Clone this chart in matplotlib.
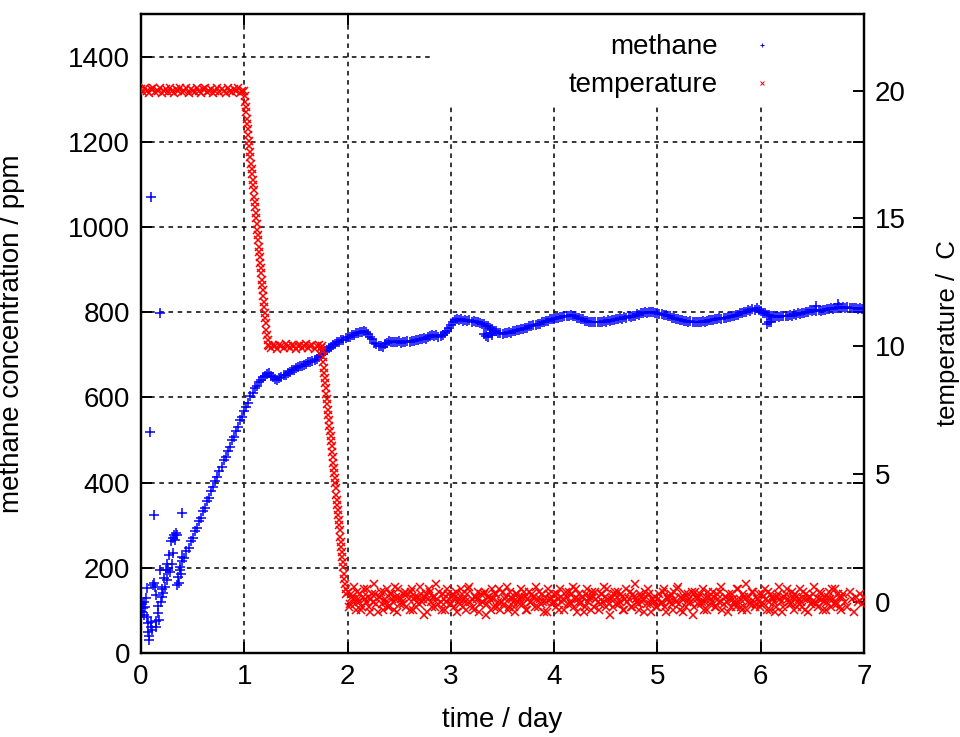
import numpy as np
import matplotlib.pyplot as plt
from matplotlib.lines import Line2D
from matplotlib.patches import Rectangle

plt.rcParams['font.family'] = ['Liberation Sans', 'DejaVu Sans']

# ---- methane (ppm) ----
# scattered readings during the first hours
ch4_early_t = [0.005, 0.010, 0.018, 0.025, 0.032, 0.040, 0.048, 0.055, 0.060, 0.066,
               0.071, 0.077, 0.082, 0.087, 0.092, 0.097, 0.100, 0.110, 0.118, 0.125,
               0.130, 0.136, 0.142, 0.148, 0.150, 0.160, 0.168, 0.174, 0.180, 0.184,
               0.192, 0.200, 0.208, 0.216, 0.225, 0.232, 0.240, 0.248, 0.256, 0.265,
               0.272, 0.280, 0.290, 0.297, 0.305, 0.313, 0.320, 0.330, 0.338, 0.345,
               0.352, 0.360, 0.368, 0.377, 0.385, 0.394, 0.400]
ch4_early = [115, 97, 105, 89, 120, 109, 128, 152, 85, 50,
             70, 30, 40, 519, 73, 1070, 60, 55, 159, 324,
             165, 156, 62, 75, 136, 110, 93, 77, 797, 195,
             120, 132, 150, 140, 175, 156, 195, 171, 210, 195,
             230, 191, 262, 210, 270, 234, 278, 265, 282, 277,
             160, 179, 165, 195, 185, 226, 328]

# main trace, one reading every 0.02 day
ch4_rise = [202, 216, 223, 239, 247, 263, 271, 286, 294, 310,
            318, 334, 341, 357, 365, 381, 389, 404, 412, 428,
            436, 452, 459, 475, 483, 499, 507, 522, 530, 546,
            554]                                   # from day 0.38
ch4_day1 = [568, 578, 588, 603, 611, 621, 627, 636, 640, 647,
            651, 656, 657, 651, 649, 644, 642, 646, 647, 652,
            653, 658, 659, 664, 665, 668, 671, 673, 674, 677,
            679, 682, 683, 686, 688, 691, 694, 699, 703, 708,
            712, 717, 719, 724, 725, 729, 730, 734, 735, 739]
ch4_day2 = [741, 742, 746, 746, 750, 750, 754, 754, 757, 753,
            749, 741, 736, 728, 726, 721, 721, 718, 725, 728,
            732, 729, 730, 731, 729, 732, 728, 731, 730, 732,
            730, 733, 732, 735, 734, 737, 736, 739, 737, 741,
            743, 746, 745, 746, 742, 744, 747, 751, 756, 763]
ch4_day3 = [770, 777, 781, 785, 782, 783, 780, 781, 779, 781,
            778, 780, 777, 776, 775, 773, 773, 768, 767, 762,
            761, 756, 756, 752, 752, 749, 751, 750, 753, 752,
            755, 755, 758, 758, 761, 760, 764, 764, 767, 768,
            770, 770, 773, 773, 777, 776, 780, 780, 783, 783]
ch4_day4 = [785, 787, 786, 789, 788, 791, 790, 792, 793, 790,
            790, 786, 787, 783, 783, 780, 780, 777, 778, 776,
            778, 776, 778, 777, 779, 778, 781, 780, 782, 782,
            785, 784, 786, 785, 788, 787, 790, 789, 792, 792,
            795, 794, 798, 797, 800, 799, 801, 800, 800, 797]
ch4_day5 = [798, 795, 796, 793, 793, 790, 791, 787, 787, 784,
            784, 781, 782, 779, 780, 778, 779, 777, 778, 776,
            778, 776, 779, 777, 780, 781, 782, 781, 784, 783,
            786, 784, 787, 786, 789, 788, 791, 790, 794, 794,
            798, 797, 801, 800, 804, 803, 807, 806, 809, 805]
ch4_day6 = [802, 798, 798, 794, 794, 791, 792, 789, 791, 789,
            791, 790, 792, 790, 794, 792, 795, 794, 797, 796,
            799, 798, 801, 801, 804, 802, 805, 803, 805, 803,
            806, 805, 808, 807, 809, 808, 811, 810, 813, 811,
            813, 811, 812, 810, 811, 809, 810, 807, 809, 807, 808]
# stray readings
ch4_stray_t = [3.32, 3.34, 3.36, 3.38, 3.40, 6.06, 6.08, 6.10, 6.54, 6.75]
ch4_stray = [748, 745, 742, 750, 747, 773, 778, 776, 814, 820]

# ---- temperature (C) ----
temp_high = [20.05, 19.95, 20.1, 20.0, 19.9, 20.05, 20.1, 19.95, 20.0, 20.1,
             19.9, 20.0, 20.05, 19.95, 20.1, 20.0, 19.9, 20.05, 20.0, 20.1,
             19.95, 20.0, 20.1, 19.9, 20.05, 20.0, 19.95, 20.1, 20.0, 19.9,
             20.05, 20.1, 19.95, 20.0, 20.05, 19.9, 20.0, 20.1, 19.95, 20.05,
             20.0, 19.9, 20.1, 20.0, 19.95, 20.05, 20.0, 20.1, 19.9, 20.0]  # day 0, every 0.02
temp_drop1 = [20.0, 19.8, 19.55, 19.35, 19.15, 18.9, 18.7, 18.5, 18.25, 18.05,
              17.85, 17.6, 17.4, 17.15, 16.95, 16.75, 16.5, 16.3, 16.1, 15.85,
              15.65, 15.45, 15.2, 15.0, 14.8, 14.55, 14.35, 14.15, 13.9, 13.7,
              13.5, 13.25, 13.05, 12.85, 12.6, 12.4, 12.2, 11.95, 11.75, 11.55,
              11.3, 11.1, 10.9, 10.65, 10.45, 10.25, 10.05]  # day 1.0, every 0.005
temp_mid = [10.0, 9.95, 10.05, 10.0, 9.9, 10.05, 10.0, 9.95, 10.1, 10.0,
            9.95, 10.05, 10.0, 9.9, 10.0, 10.05, 9.95, 10.0, 10.1, 9.95,
            10.0, 10.05, 9.9, 10.0, 10.05, 9.95]  # day 1.24, every 0.02
temp_drop2 = [10.0, 9.8, 9.6, 9.4, 9.15, 8.95, 8.75, 8.55, 8.35, 8.15,
              7.95, 7.75, 7.5, 7.3, 7.1, 6.9, 6.7, 6.5, 6.3, 6.1,
              5.85, 5.65, 5.45, 5.25, 5.05, 4.85, 4.65, 4.45, 4.2, 4.0,
              3.8, 3.6, 3.4, 3.2, 3.0, 2.8, 2.55, 2.35, 2.15, 1.95,
              1.75, 1.55, 1.35, 1.1, 0.9, 0.7, 0.5, 0.3]  # day 1.75, every 0.005
temp_day2 = [0.4, -0.1, 0.2, 0.6, -0.3, 0.1, 0.3, -0.2, 0.5, 0.0,
             0.2, -0.4, 0.3, 0.7, -0.1, 0.2, 0.4, -0.3, 0.1, 0.5,
             -0.2, 0.3, 0.0, 0.6, -0.4, 0.2, 0.1, -0.1, 0.4, 0.3,
             -0.3, 0.5, 0.1, -0.2, 0.2, 0.6, 0.0, -0.5, 0.3, 0.1,
             0.4, -0.2, 0.2, 0.7, -0.1, 0.0, 0.3, -0.3, 0.5, 0.1]
temp_day3 = [-0.1, 0.3, 0.2, -0.4, 0.1, 0.5, -0.2, 0.0, 0.3, 0.6,
             0.1, -0.3, 0.2, 0.4, -0.1, 0.0, 0.3, -0.5, 0.2, 0.1,
             0.5, -0.2, 0.3, 0.0, -0.3, 0.4, 0.1, 0.6, -0.2, 0.2,
             0.0, -0.4, 0.3, 0.1, 0.5, -0.1, 0.2, -0.3, 0.4, 0.0,
             0.2, 0.6, -0.2, 0.1, 0.3, -0.4, 0.0, 0.5, 0.1, -0.1]
temp_day4 = [0.3, -0.2, 0.1, 0.5, 0.0, -0.3, 0.2, 0.4, -0.1, 0.6,
             0.1, -0.4, 0.3, 0.0, 0.2, -0.2, 0.5, 0.1, -0.3, 0.2,
             0.4, 0.0, -0.1, 0.3, 0.6, -0.2, 0.1, -0.5, 0.2, 0.3,
             -0.1, 0.4, 0.0, 0.2, -0.3, 0.5, 0.1, -0.2, 0.3, 0.7,
             0.0, -0.3, 0.2, 0.1, 0.4, -0.1, 0.3, -0.4, 0.1, 0.2]
temp_day5 = [-0.2, 0.3, 0.0, 0.5, -0.4, 0.1, 0.2, -0.1, 0.4, 0.0,
             0.6, -0.3, 0.1, 0.2, -0.2, 0.3, 0.0, -0.5, 0.4, 0.1,
             0.2, -0.1, 0.5, 0.0, -0.3, 0.2, 0.1, 0.4, -0.2, 0.3,
             0.0, 0.6, -0.1, 0.2, -0.4, 0.1, 0.3, 0.0, -0.2, 0.5,
             0.1, -0.3, 0.2, 0.7, 0.0, -0.1, 0.4, -0.2, 0.1, 0.3]
temp_day6 = [-0.1, 0.2, 0.5, -0.3, 0.0, 0.3, 0.1, -0.4, 0.2, 0.6,
             0.0, -0.2, 0.3, 0.1, -0.1, 0.4, -0.3, 0.2, 0.0, 0.5,
             -0.2, 0.1, 0.3, -0.4, 0.2, 0.0, 0.6, -0.1, 0.1, 0.3,
             -0.3, 0.2, 0.0, 0.4, -0.2, 0.1, 0.5, -0.1, 0.2, -0.3,
             0.3, 0.0, -0.2, 0.4, 0.1, -0.4, 0.2, 0.0, 0.3, -0.1, 0.2]
# in-between readings (offset by 0.01 day) for days 2-7
temp_mid2 = [-0.2, 0.3, 0.1, -0.1, 0.4, 0.0, -0.3, 0.2, 0.1, 0.5,
             -0.2, 0.1, 0.0, 0.3, -0.4, 0.2, -0.1, 0.4, 0.0, -0.2,
             0.3, 0.1, -0.3, 0.2, 0.5, -0.1, 0.0, 0.3, -0.2, 0.1,
             0.4, -0.3, 0.2, 0.0, -0.1, 0.3, 0.1, 0.2, -0.4, 0.5,
             0.0, 0.2, -0.2, 0.1, 0.4, -0.3, 0.1, 0.0, 0.3, -0.1]
temp_mid3 = [0.2, -0.2, 0.4, 0.0, -0.1, 0.3, 0.1, -0.3, 0.5, 0.0,
             -0.2, 0.2, 0.1, -0.4, 0.3, 0.0, 0.4, -0.1, 0.2, -0.3,
             0.1, 0.3, -0.2, 0.5, 0.0, -0.1, 0.2, -0.3, 0.4, 0.1,
             -0.2, 0.3, 0.0, -0.1, 0.2, 0.4, -0.3, 0.1, 0.0, 0.3,
             -0.2, 0.1, 0.4, -0.1, 0.0, 0.2, -0.4, 0.3, 0.1, 0.0]
temp_mid4 = [0.0, 0.3, -0.3, 0.2, 0.1, 0.4, -0.1, 0.0, 0.3, -0.2,
             0.5, 0.1, -0.1, 0.2, -0.4, 0.3, 0.0, 0.2, 0.4, -0.2,
             0.1, -0.3, 0.3, 0.0, 0.2, 0.5, -0.1, 0.1, -0.2, 0.4,
             0.2, -0.1, 0.3, -0.3, 0.1, 0.0, 0.4, -0.2, 0.2, 0.1,
             -0.1, 0.3, 0.0, -0.4, 0.2, 0.5, -0.1, 0.1, 0.0, -0.2]
temp_mid5 = [0.1, -0.1, 0.4, -0.2, 0.2, 0.0, 0.3, -0.3, 0.1, 0.5,
             -0.1, 0.2, -0.4, 0.3, 0.0, 0.1, 0.4, -0.2, 0.2, -0.1,
             0.3, 0.0, -0.3, 0.2, 0.4, -0.1, 0.0, 0.2, -0.2, 0.1,
             0.4, -0.3, 0.2, 0.0, 0.3, -0.2, 0.1, -0.1, 0.5, 0.0,
             -0.2, 0.3, 0.1, -0.3, 0.2, 0.0, 0.4, -0.1, 0.1, -0.2]
temp_mid6 = [0.3, -0.1, 0.1, 0.4, -0.3, 0.2, 0.0, -0.2, 0.3, 0.1,
             -0.4, 0.2, 0.5, 0.0, -0.1, 0.2, 0.3, -0.2, 0.1, 0.0,
             0.4, -0.3, 0.1, 0.2, -0.1, 0.3, 0.0, -0.2, 0.4, 0.1,
             0.0, -0.3, 0.2, 0.1, 0.5, -0.1, 0.0, 0.3, -0.2, 0.2]  # up to day 6.8


def stamps(start, step, values):
    # logger sample times for a block of readings
    return start + step * np.arange(len(values))


ch4_t = np.concatenate([ch4_early_t,
                        stamps(0.38, 0.02, ch4_rise),
                        stamps(1.0, 0.02, ch4_day1),
                        stamps(2.0, 0.02, ch4_day2),
                        stamps(3.0, 0.02, ch4_day3),
                        stamps(4.0, 0.02, ch4_day4),
                        stamps(5.0, 0.02, ch4_day5),
                        stamps(6.0, 0.02, ch4_day6),
                        ch4_stray_t])
ch4 = np.concatenate([ch4_early, ch4_rise, ch4_day1, ch4_day2, ch4_day3,
                      ch4_day4, ch4_day5, ch4_day6, ch4_stray])

temp_t = np.concatenate([stamps(0.0, 0.02, temp_high),
                         stamps(1.0, 0.005, temp_drop1),
                         stamps(1.24, 0.02, temp_mid),
                         stamps(1.75, 0.005, temp_drop2),
                         stamps(2.0, 0.02, temp_day2),
                         stamps(3.0, 0.02, temp_day3),
                         stamps(4.0, 0.02, temp_day4),
                         stamps(5.0, 0.02, temp_day5),
                         stamps(6.0, 0.02, temp_day6),
                         stamps(2.01, 0.02, temp_mid2),
                         stamps(3.01, 0.02, temp_mid3),
                         stamps(4.01, 0.02, temp_mid4),
                         stamps(5.01, 0.02, temp_mid5),
                         stamps(6.01, 0.02, temp_mid6)])
temp = np.concatenate([temp_high, temp_drop1, temp_mid, temp_drop2,
                       temp_day2, temp_day3, temp_day4, temp_day5, temp_day6,
                       temp_mid2, temp_mid3, temp_mid4, temp_mid5, temp_mid6])

fig = plt.figure(figsize=(9.6, 7.37), dpi=100)
ax = fig.add_axes([141/960, 84/737, 723/960, 639/737])
ax2 = ax.twinx()

ax.plot(ch4_t, ch4, ls='none', marker='+', color='#0000ff', ms=6.5, mew=1.1, zorder=3)
ax2.plot(temp_t, temp, ls='none', marker='x', color='#ff0000', ms=5.2, mew=1.1, zorder=3)

ax.set_xlim(0, 7)
ax.set_ylim(0, 1500)
ax2.set_ylim(-2, 23)
ax.set_xticks(range(0, 8))
ax.set_yticks(range(0, 1401, 200))
ax2.set_yticks(range(0, 21, 5))

ax.grid(True, color='black', ls=(0, (3, 3)), lw=1.1)
ax.set_axisbelow(True)
# key area hides the grid behind it
ax.add_patch(Rectangle((0.4025, 0.858), 0.6, 0.15, transform=ax.transAxes,
                       facecolor='white', edgecolor='none', zorder=1))

for a in (ax, ax2):
    for s in a.spines.values():
        s.set_linewidth(1.6)
ax.tick_params(axis='both', direction='in', length=8, width=1.4, labelsize=20, pad=8,
               top=True, right=True, labelright=False)
ax2.tick_params(axis='y', direction='in', length=8, width=1.4, labelsize=20, pad=8)

ax.set_xlabel('time / day', fontsize=20, labelpad=12)
ax.set_ylabel('methane concentration / ppm', fontsize=20)
ax.yaxis.set_label_coords(-0.16, 0.5)
ax2.set_ylabel('temperature /  C', fontsize=18.5)
ax2.yaxis.set_label_coords(1.099, 0.5)

handles = [Line2D([], [], ls='none', marker='+', color='#0000ff', ms=3, mew=0.7),
           Line2D([], [], ls='none', marker='x', color='#ff0000', ms=3, mew=0.7)]
ax2.legend(handles, ['methane', 'temperature'], loc='upper right',
           bbox_to_anchor=(0.888, 0.99), markerfirst=False, frameon=False,
           fontsize=20, handlelength=0.5, handletextpad=1.35, labelspacing=0.43,
           borderpad=0)

fig.savefig('out.png', dpi=100)
